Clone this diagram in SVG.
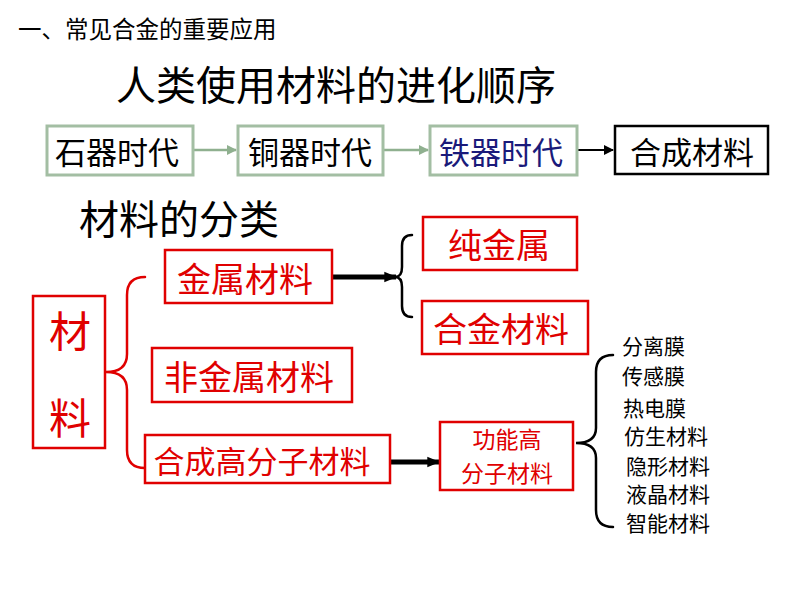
<svg xmlns="http://www.w3.org/2000/svg" width="794" height="596" viewBox="0 0 794 596">
<defs>
<style>
text{font-family:"Noto Sans CJK SC","Noto Sans",sans-serif;dominant-baseline:central}
.c{text-anchor:middle}
.gbox{fill:#fff;stroke:#a3bea3;stroke-width:3}
.rbox{fill:#fff;stroke:#e00000;stroke-width:2.5}
.rt{fill:#e00000}
.blk{fill:#000}
.garr{stroke:#8fb08f;stroke-width:2.5;fill:none}
.barr{stroke:#000;stroke-width:2;fill:none}
.thick{stroke:#000;stroke-width:5;fill:none}
.brace{fill:none;stroke-width:2.5;stroke-linecap:round}
</style>
<marker id="ag" viewBox="0 0 10 10" refX="9" refY="5" markerWidth="4" markerHeight="4" orient="auto"><path d="M0,0 L10,5 L0,10 z" fill="#8fb08f"/></marker>
<marker id="ab" viewBox="0 0 10 10" refX="9" refY="5" markerWidth="5" markerHeight="5" orient="auto"><path d="M0,0 L10,5 L0,10 z" fill="#000"/></marker>
<marker id="at" viewBox="0 0 10 10" refX="9" refY="5" markerWidth="2.6" markerHeight="2.6" orient="auto"><path d="M0,1 L10,5 L0,9 z" fill="#000"/></marker>
</defs>
<rect width="794" height="596" fill="#fff"/>

<text x="18" y="28" font-size="23.5" class="blk">一、常见合金的重要应用</text>
<text x="336" y="83" font-size="40" class="c blk">人类使用材料的进化顺序</text>
<text x="179" y="217" font-size="40" class="c blk">材料的分类</text>

<g id="connectors">
<line x1="193" y1="150" x2="236" y2="150" class="garr" marker-end="url(#ag)"/>
<line x1="383" y1="150" x2="428" y2="150" class="garr" marker-end="url(#ag)"/>
<line x1="577" y1="150" x2="613" y2="150" class="barr" marker-end="url(#ab)"/>
<line x1="332" y1="277" x2="396" y2="277" class="thick" marker-end="url(#at)"/>
<line x1="390" y1="462" x2="439" y2="462" class="thick" marker-end="url(#at)"/>
<path class="brace" stroke="#000" d="M412,235 Q402,235 402,246 L402,267 Q402,277 395,277 Q402,277 402,287 L402,306 Q402,317 412,317"/>
<path class="brace" stroke="#e00000" d="M145,277 Q127,277 127,295 L127,354 Q127,372 106,372 Q127,372 127,390 L127,450 Q127,468 145,468"/>
<path class="brace" stroke="#000" d="M613,355 Q596,355 596,372 L596,428 Q596,443 576,443 Q596,443 596,458 L596,510 Q596,527 613,527"/>
</g>

<g id="n-stone"><rect x="47" y="126" width="146" height="49" class="gbox"/><text x="117" y="150" font-size="31" class="c blk">石器时代</text></g>
<g id="n-bronze"><rect x="238" y="126" width="145" height="49" class="gbox"/><text x="310" y="150" font-size="31" class="c blk">铜器时代</text></g>
<g id="n-iron"><rect x="430" y="126" width="147" height="49" class="gbox"/><text x="501" y="150" font-size="31" class="c" fill="#1a1a7a">铁器时代</text></g>
<g id="n-synth"><rect x="615" y="126" width="153" height="48" fill="#fff" stroke="#000" stroke-width="2.5"/><text x="692" y="150" font-size="31" class="c blk">合成材料</text></g>

<g id="n-material"><rect x="33" y="296" width="72" height="152" class="rbox"/><text x="70" y="328" font-size="42" class="c rt">材</text><text x="70" y="415" font-size="42" class="c rt">料</text></g>
<g id="n-metal"><rect x="165" y="250" width="167" height="53" class="rbox"/><text x="245" y="277" font-size="34" class="c rt">金属材料</text></g>
<g id="n-nonmetal"><rect x="152" y="348" width="200" height="54" class="rbox"/><text x="249" y="375" font-size="34" class="c rt">非金属材料</text></g>
<g id="n-polymer"><rect x="145" y="435" width="245" height="48" class="rbox"/><text x="262" y="459" font-size="31" class="c rt">合成高分子材料</text></g>
<g id="n-pure"><rect x="423" y="217" width="154" height="53" class="rbox"/><text x="499" y="243" font-size="34" class="c rt">纯金属</text></g>
<g id="n-alloy"><rect x="422" y="301" width="166" height="53" class="rbox"/><text x="501" y="327" font-size="34" class="c rt">合金材料</text></g>
<g id="n-func"><rect x="440" y="422" width="133" height="68" class="rbox"/><text x="507" y="438" font-size="23" class="c rt">功能高</text><text x="507" y="472" font-size="23" class="c rt">分子材料</text></g>

<g id="n-list" font-size="21">
<text x="622" y="345" class="blk">分离膜</text>
<text x="622" y="375" class="blk">传感膜</text>
<text x="623" y="407" class="blk">热电膜</text>
<text x="624" y="435" class="blk">仿生材料</text>
<text x="626" y="465" class="blk">隐形材料</text>
<text x="626" y="493" class="blk">液晶材料</text>
<text x="626" y="522" class="blk">智能材料</text>
</g>
</svg>
